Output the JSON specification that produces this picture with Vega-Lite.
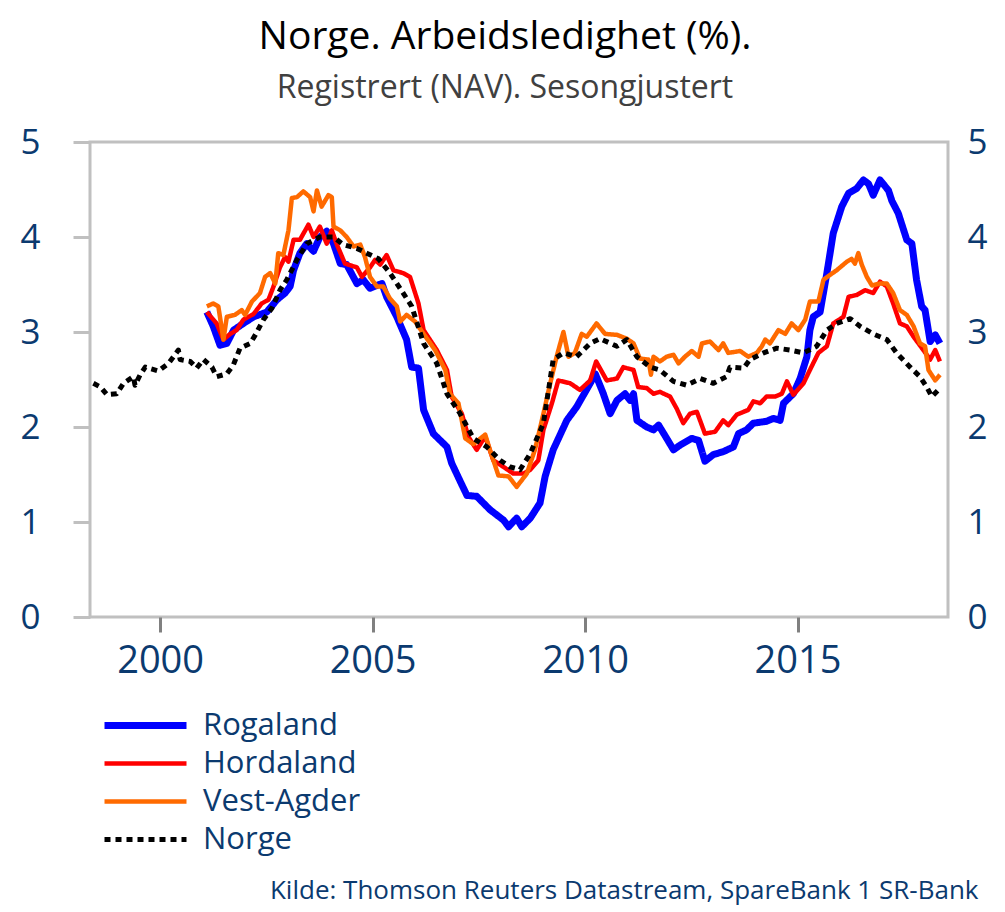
{
  "$schema": "https://vega.github.io/schema/vega-lite/v6.json",
  "width": 858,
  "height": 475,
  "autosize": {"type": "none"},
  "padding": {"left": 90, "top": 142, "right": 57, "bottom": 295},
  "background": "white",
  "config": {
    "view": {"stroke": "#c0c0c0", "strokeWidth": 3},
    "font": "Open Sans"
  },
  "title": {
    "text": "Norge. Arbeidsledighet (%).",
    "subtitle": "Registrert (NAV). Sesongjustert",
    "font": "Open Sans",
    "fontSize": 39,
    "fontWeight": "normal",
    "color": "#000000",
    "subtitleFont": "Open Sans",
    "subtitleFontSize": 32,
    "subtitleColor": "#404040",
    "subtitlePadding": 16,
    "anchor": "middle",
    "dx": -14,
    "offset": 21
  },
  "data": {
    "values": [
      {"s":"Rogaland","t":2001.10,"v":3.21},{"s":"Rogaland","t":2001.25,"v":3.06},{"s":"Rogaland","t":2001.41,"v":2.86},{"s":"Rogaland","t":2001.57,"v":2.88},{"s":"Rogaland","t":2001.73,"v":3.02},{"s":"Rogaland","t":2001.96,"v":3.09},{"s":"Rogaland","t":2002.20,"v":3.16},{"s":"Rogaland","t":2002.39,"v":3.19},{"s":"Rogaland","t":2002.51,"v":3.21},{"s":"Rogaland","t":2002.75,"v":3.34},{"s":"Rogaland","t":2002.94,"v":3.41},{"s":"Rogaland","t":2003.06,"v":3.48},{"s":"Rogaland","t":2003.14,"v":3.65},{"s":"Rogaland","t":2003.29,"v":3.83},{"s":"Rogaland","t":2003.45,"v":3.93},{"s":"Rogaland","t":2003.61,"v":3.85},{"s":"Rogaland","t":2003.76,"v":4.00},{"s":"Rogaland","t":2003.92,"v":4.06},{"s":"Rogaland","t":2004.08,"v":3.93},{"s":"Rogaland","t":2004.24,"v":3.72},{"s":"Rogaland","t":2004.39,"v":3.71},{"s":"Rogaland","t":2004.63,"v":3.51},{"s":"Rogaland","t":2004.78,"v":3.55},{"s":"Rogaland","t":2004.94,"v":3.46},{"s":"Rogaland","t":2005.10,"v":3.49},{"s":"Rogaland","t":2005.22,"v":3.51},{"s":"Rogaland","t":2005.33,"v":3.37},{"s":"Rogaland","t":2005.57,"v":3.16},{"s":"Rogaland","t":2005.80,"v":2.92},{"s":"Rogaland","t":2005.92,"v":2.63},{"s":"Rogaland","t":2006.08,"v":2.62},{"s":"Rogaland","t":2006.20,"v":2.18},{"s":"Rogaland","t":2006.43,"v":1.93},{"s":"Rogaland","t":2006.75,"v":1.79},{"s":"Rogaland","t":2006.86,"v":1.62},{"s":"Rogaland","t":2007.06,"v":1.43},{"s":"Rogaland","t":2007.22,"v":1.28},{"s":"Rogaland","t":2007.45,"v":1.27},{"s":"Rogaland","t":2007.76,"v":1.13},{"s":"Rogaland","t":2008.08,"v":1.02},{"s":"Rogaland","t":2008.20,"v":0.95},{"s":"Rogaland","t":2008.39,"v":1.04},{"s":"Rogaland","t":2008.51,"v":0.95},{"s":"Rogaland","t":2008.71,"v":1.04},{"s":"Rogaland","t":2008.94,"v":1.20},{"s":"Rogaland","t":2009.06,"v":1.48},{"s":"Rogaland","t":2009.25,"v":1.76},{"s":"Rogaland","t":2009.57,"v":2.07},{"s":"Rogaland","t":2009.80,"v":2.21},{"s":"Rogaland","t":2010.12,"v":2.46},{"s":"Rogaland","t":2010.24,"v":2.56},{"s":"Rogaland","t":2010.43,"v":2.35},{"s":"Rogaland","t":2010.59,"v":2.14},{"s":"Rogaland","t":2010.75,"v":2.28},{"s":"Rogaland","t":2010.94,"v":2.35},{"s":"Rogaland","t":2011.06,"v":2.28},{"s":"Rogaland","t":2011.14,"v":2.35},{"s":"Rogaland","t":2011.22,"v":2.07},{"s":"Rogaland","t":2011.45,"v":2.00},{"s":"Rogaland","t":2011.61,"v":1.97},{"s":"Rogaland","t":2011.73,"v":2.02},{"s":"Rogaland","t":2011.92,"v":1.88},{"s":"Rogaland","t":2012.08,"v":1.76},{"s":"Rogaland","t":2012.24,"v":1.81},{"s":"Rogaland","t":2012.51,"v":1.88},{"s":"Rogaland","t":2012.67,"v":1.86},{"s":"Rogaland","t":2012.82,"v":1.64},{"s":"Rogaland","t":2013.02,"v":1.71},{"s":"Rogaland","t":2013.25,"v":1.74},{"s":"Rogaland","t":2013.49,"v":1.79},{"s":"Rogaland","t":2013.61,"v":1.93},{"s":"Rogaland","t":2013.80,"v":1.97},{"s":"Rogaland","t":2013.96,"v":2.04},{"s":"Rogaland","t":2014.27,"v":2.06},{"s":"Rogaland","t":2014.43,"v":2.09},{"s":"Rogaland","t":2014.59,"v":2.07},{"s":"Rogaland","t":2014.67,"v":2.25},{"s":"Rogaland","t":2014.90,"v":2.35},{"s":"Rogaland","t":2015.06,"v":2.51},{"s":"Rogaland","t":2015.22,"v":2.74},{"s":"Rogaland","t":2015.29,"v":3.02},{"s":"Rogaland","t":2015.37,"v":3.16},{"s":"Rogaland","t":2015.53,"v":3.21},{"s":"Rogaland","t":2015.69,"v":3.62},{"s":"Rogaland","t":2015.84,"v":4.04},{"s":"Rogaland","t":2016.04,"v":4.32},{"s":"Rogaland","t":2016.20,"v":4.46},{"s":"Rogaland","t":2016.39,"v":4.51},{"s":"Rogaland","t":2016.55,"v":4.60},{"s":"Rogaland","t":2016.67,"v":4.56},{"s":"Rogaland","t":2016.78,"v":4.44},{"s":"Rogaland","t":2016.94,"v":4.60},{"s":"Rogaland","t":2017.14,"v":4.49},{"s":"Rogaland","t":2017.22,"v":4.38},{"s":"Rogaland","t":2017.37,"v":4.25},{"s":"Rogaland","t":2017.57,"v":3.97},{"s":"Rogaland","t":2017.69,"v":3.93},{"s":"Rogaland","t":2017.80,"v":3.55},{"s":"Rogaland","t":2017.92,"v":3.27},{"s":"Rogaland","t":2018.00,"v":3.23},{"s":"Rogaland","t":2018.12,"v":2.90},{"s":"Rogaland","t":2018.24,"v":2.97},{"s":"Rogaland","t":2018.35,"v":2.88},
      {"s":"Hordaland","t":2001.10,"v":3.21},{"s":"Hordaland","t":2001.33,"v":3.09},{"s":"Hordaland","t":2001.49,"v":2.92},{"s":"Hordaland","t":2001.65,"v":2.98},{"s":"Hordaland","t":2001.80,"v":3.02},{"s":"Hordaland","t":2001.96,"v":3.13},{"s":"Hordaland","t":2002.20,"v":3.19},{"s":"Hordaland","t":2002.39,"v":3.30},{"s":"Hordaland","t":2002.55,"v":3.34},{"s":"Hordaland","t":2002.67,"v":3.48},{"s":"Hordaland","t":2002.82,"v":3.68},{"s":"Hordaland","t":2002.94,"v":3.79},{"s":"Hordaland","t":2003.02,"v":3.74},{"s":"Hordaland","t":2003.14,"v":3.97},{"s":"Hordaland","t":2003.29,"v":3.97},{"s":"Hordaland","t":2003.49,"v":4.13},{"s":"Hordaland","t":2003.61,"v":4.00},{"s":"Hordaland","t":2003.76,"v":4.11},{"s":"Hordaland","t":2003.92,"v":3.93},{"s":"Hordaland","t":2004.04,"v":4.07},{"s":"Hordaland","t":2004.16,"v":3.92},{"s":"Hordaland","t":2004.35,"v":3.72},{"s":"Hordaland","t":2004.63,"v":3.68},{"s":"Hordaland","t":2004.75,"v":3.58},{"s":"Hordaland","t":2004.94,"v":3.68},{"s":"Hordaland","t":2005.06,"v":3.76},{"s":"Hordaland","t":2005.18,"v":3.71},{"s":"Hordaland","t":2005.33,"v":3.81},{"s":"Hordaland","t":2005.49,"v":3.65},{"s":"Hordaland","t":2005.72,"v":3.62},{"s":"Hordaland","t":2005.88,"v":3.58},{"s":"Hordaland","t":2006.08,"v":3.30},{"s":"Hordaland","t":2006.20,"v":3.02},{"s":"Hordaland","t":2006.51,"v":2.81},{"s":"Hordaland","t":2006.75,"v":2.60},{"s":"Hordaland","t":2006.86,"v":2.32},{"s":"Hordaland","t":2007.10,"v":2.14},{"s":"Hordaland","t":2007.25,"v":1.90},{"s":"Hordaland","t":2007.45,"v":1.76},{"s":"Hordaland","t":2007.65,"v":1.90},{"s":"Hordaland","t":2007.84,"v":1.65},{"s":"Hordaland","t":2008.08,"v":1.58},{"s":"Hordaland","t":2008.31,"v":1.51},{"s":"Hordaland","t":2008.55,"v":1.51},{"s":"Hordaland","t":2008.71,"v":1.55},{"s":"Hordaland","t":2008.90,"v":1.65},{"s":"Hordaland","t":2009.02,"v":1.97},{"s":"Hordaland","t":2009.22,"v":2.25},{"s":"Hordaland","t":2009.37,"v":2.49},{"s":"Hordaland","t":2009.65,"v":2.46},{"s":"Hordaland","t":2009.88,"v":2.39},{"s":"Hordaland","t":2010.12,"v":2.49},{"s":"Hordaland","t":2010.26,"v":2.69},{"s":"Hordaland","t":2010.51,"v":2.49},{"s":"Hordaland","t":2010.75,"v":2.51},{"s":"Hordaland","t":2010.90,"v":2.63},{"s":"Hordaland","t":2011.14,"v":2.60},{"s":"Hordaland","t":2011.25,"v":2.42},{"s":"Hordaland","t":2011.45,"v":2.41},{"s":"Hordaland","t":2011.61,"v":2.35},{"s":"Hordaland","t":2011.76,"v":2.37},{"s":"Hordaland","t":2012.00,"v":2.32},{"s":"Hordaland","t":2012.16,"v":2.19},{"s":"Hordaland","t":2012.31,"v":2.04},{"s":"Hordaland","t":2012.47,"v":2.14},{"s":"Hordaland","t":2012.63,"v":2.16},{"s":"Hordaland","t":2012.82,"v":1.93},{"s":"Hordaland","t":2013.06,"v":1.95},{"s":"Hordaland","t":2013.25,"v":2.07},{"s":"Hordaland","t":2013.37,"v":2.02},{"s":"Hordaland","t":2013.57,"v":2.13},{"s":"Hordaland","t":2013.84,"v":2.18},{"s":"Hordaland","t":2013.96,"v":2.27},{"s":"Hordaland","t":2014.12,"v":2.25},{"s":"Hordaland","t":2014.27,"v":2.32},{"s":"Hordaland","t":2014.47,"v":2.32},{"s":"Hordaland","t":2014.63,"v":2.35},{"s":"Hordaland","t":2014.75,"v":2.48},{"s":"Hordaland","t":2014.90,"v":2.34},{"s":"Hordaland","t":2015.14,"v":2.46},{"s":"Hordaland","t":2015.29,"v":2.60},{"s":"Hordaland","t":2015.49,"v":2.78},{"s":"Hordaland","t":2015.69,"v":2.85},{"s":"Hordaland","t":2015.84,"v":3.09},{"s":"Hordaland","t":2016.08,"v":3.16},{"s":"Hordaland","t":2016.20,"v":3.37},{"s":"Hordaland","t":2016.39,"v":3.39},{"s":"Hordaland","t":2016.59,"v":3.44},{"s":"Hordaland","t":2016.78,"v":3.41},{"s":"Hordaland","t":2016.94,"v":3.53},{"s":"Hordaland","t":2017.10,"v":3.48},{"s":"Hordaland","t":2017.25,"v":3.30},{"s":"Hordaland","t":2017.41,"v":3.09},{"s":"Hordaland","t":2017.57,"v":3.06},{"s":"Hordaland","t":2017.73,"v":2.95},{"s":"Hordaland","t":2017.96,"v":2.81},{"s":"Hordaland","t":2018.12,"v":2.71},{"s":"Hordaland","t":2018.24,"v":2.81},{"s":"Hordaland","t":2018.35,"v":2.69},
      {"s":"Vest-Agder","t":2001.10,"v":3.27},{"s":"Vest-Agder","t":2001.25,"v":3.30},{"s":"Vest-Agder","t":2001.37,"v":3.27},{"s":"Vest-Agder","t":2001.49,"v":2.92},{"s":"Vest-Agder","t":2001.57,"v":3.16},{"s":"Vest-Agder","t":2001.76,"v":3.18},{"s":"Vest-Agder","t":2001.92,"v":3.23},{"s":"Vest-Agder","t":2002.00,"v":3.18},{"s":"Vest-Agder","t":2002.16,"v":3.32},{"s":"Vest-Agder","t":2002.35,"v":3.41},{"s":"Vest-Agder","t":2002.47,"v":3.58},{"s":"Vest-Agder","t":2002.59,"v":3.62},{"s":"Vest-Agder","t":2002.71,"v":3.51},{"s":"Vest-Agder","t":2002.78,"v":3.83},{"s":"Vest-Agder","t":2002.90,"v":3.81},{"s":"Vest-Agder","t":2003.02,"v":4.07},{"s":"Vest-Agder","t":2003.10,"v":4.41},{"s":"Vest-Agder","t":2003.22,"v":4.42},{"s":"Vest-Agder","t":2003.37,"v":4.48},{"s":"Vest-Agder","t":2003.53,"v":4.42},{"s":"Vest-Agder","t":2003.61,"v":4.27},{"s":"Vest-Agder","t":2003.69,"v":4.49},{"s":"Vest-Agder","t":2003.80,"v":4.32},{"s":"Vest-Agder","t":2003.96,"v":4.44},{"s":"Vest-Agder","t":2004.04,"v":4.42},{"s":"Vest-Agder","t":2004.08,"v":4.11},{"s":"Vest-Agder","t":2004.24,"v":4.07},{"s":"Vest-Agder","t":2004.39,"v":4.00},{"s":"Vest-Agder","t":2004.55,"v":3.90},{"s":"Vest-Agder","t":2004.71,"v":3.92},{"s":"Vest-Agder","t":2004.82,"v":3.79},{"s":"Vest-Agder","t":2004.94,"v":3.58},{"s":"Vest-Agder","t":2005.10,"v":3.48},{"s":"Vest-Agder","t":2005.25,"v":3.48},{"s":"Vest-Agder","t":2005.41,"v":3.35},{"s":"Vest-Agder","t":2005.57,"v":3.27},{"s":"Vest-Agder","t":2005.65,"v":3.11},{"s":"Vest-Agder","t":2005.80,"v":3.18},{"s":"Vest-Agder","t":2006.00,"v":3.11},{"s":"Vest-Agder","t":2006.20,"v":2.98},{"s":"Vest-Agder","t":2006.47,"v":2.81},{"s":"Vest-Agder","t":2006.71,"v":2.60},{"s":"Vest-Agder","t":2006.82,"v":2.35},{"s":"Vest-Agder","t":2007.02,"v":2.25},{"s":"Vest-Agder","t":2007.18,"v":1.88},{"s":"Vest-Agder","t":2007.37,"v":1.82},{"s":"Vest-Agder","t":2007.65,"v":1.92},{"s":"Vest-Agder","t":2007.76,"v":1.76},{"s":"Vest-Agder","t":2007.96,"v":1.49},{"s":"Vest-Agder","t":2008.20,"v":1.48},{"s":"Vest-Agder","t":2008.39,"v":1.37},{"s":"Vest-Agder","t":2008.63,"v":1.51},{"s":"Vest-Agder","t":2008.82,"v":1.76},{"s":"Vest-Agder","t":2009.02,"v":2.14},{"s":"Vest-Agder","t":2009.18,"v":2.46},{"s":"Vest-Agder","t":2009.33,"v":2.74},{"s":"Vest-Agder","t":2009.49,"v":3.00},{"s":"Vest-Agder","t":2009.61,"v":2.74},{"s":"Vest-Agder","t":2009.76,"v":2.78},{"s":"Vest-Agder","t":2009.92,"v":2.98},{"s":"Vest-Agder","t":2010.04,"v":2.95},{"s":"Vest-Agder","t":2010.27,"v":3.09},{"s":"Vest-Agder","t":2010.47,"v":2.98},{"s":"Vest-Agder","t":2010.75,"v":2.97},{"s":"Vest-Agder","t":2010.98,"v":2.93},{"s":"Vest-Agder","t":2011.14,"v":2.88},{"s":"Vest-Agder","t":2011.29,"v":2.72},{"s":"Vest-Agder","t":2011.49,"v":2.71},{"s":"Vest-Agder","t":2011.55,"v":2.55},{"s":"Vest-Agder","t":2011.61,"v":2.74},{"s":"Vest-Agder","t":2011.76,"v":2.69},{"s":"Vest-Agder","t":2011.92,"v":2.74},{"s":"Vest-Agder","t":2012.08,"v":2.76},{"s":"Vest-Agder","t":2012.20,"v":2.67},{"s":"Vest-Agder","t":2012.35,"v":2.74},{"s":"Vest-Agder","t":2012.51,"v":2.80},{"s":"Vest-Agder","t":2012.67,"v":2.74},{"s":"Vest-Agder","t":2012.75,"v":2.88},{"s":"Vest-Agder","t":2012.94,"v":2.90},{"s":"Vest-Agder","t":2013.14,"v":2.81},{"s":"Vest-Agder","t":2013.25,"v":2.88},{"s":"Vest-Agder","t":2013.37,"v":2.78},{"s":"Vest-Agder","t":2013.65,"v":2.80},{"s":"Vest-Agder","t":2013.84,"v":2.74},{"s":"Vest-Agder","t":2014.04,"v":2.78},{"s":"Vest-Agder","t":2014.16,"v":2.85},{"s":"Vest-Agder","t":2014.24,"v":2.92},{"s":"Vest-Agder","t":2014.35,"v":2.88},{"s":"Vest-Agder","t":2014.55,"v":3.02},{"s":"Vest-Agder","t":2014.71,"v":2.98},{"s":"Vest-Agder","t":2014.86,"v":3.09},{"s":"Vest-Agder","t":2015.02,"v":3.02},{"s":"Vest-Agder","t":2015.18,"v":3.13},{"s":"Vest-Agder","t":2015.29,"v":3.32},{"s":"Vest-Agder","t":2015.49,"v":3.32},{"s":"Vest-Agder","t":2015.61,"v":3.55},{"s":"Vest-Agder","t":2015.76,"v":3.60},{"s":"Vest-Agder","t":2015.92,"v":3.65},{"s":"Vest-Agder","t":2016.16,"v":3.74},{"s":"Vest-Agder","t":2016.27,"v":3.77},{"s":"Vest-Agder","t":2016.35,"v":3.72},{"s":"Vest-Agder","t":2016.43,"v":3.83},{"s":"Vest-Agder","t":2016.51,"v":3.71},{"s":"Vest-Agder","t":2016.63,"v":3.58},{"s":"Vest-Agder","t":2016.75,"v":3.49},{"s":"Vest-Agder","t":2016.94,"v":3.51},{"s":"Vest-Agder","t":2017.10,"v":3.51},{"s":"Vest-Agder","t":2017.25,"v":3.41},{"s":"Vest-Agder","t":2017.41,"v":3.23},{"s":"Vest-Agder","t":2017.57,"v":3.18},{"s":"Vest-Agder","t":2017.73,"v":3.06},{"s":"Vest-Agder","t":2017.88,"v":2.88},{"s":"Vest-Agder","t":2018.00,"v":2.85},{"s":"Vest-Agder","t":2018.08,"v":2.60},{"s":"Vest-Agder","t":2018.24,"v":2.49},{"s":"Vest-Agder","t":2018.35,"v":2.55},
      {"s":"Norge","t":1998.43,"v":2.46},{"s":"Norge","t":1998.60,"v":2.42},{"s":"Norge","t":1998.75,"v":2.34},{"s":"Norge","t":1998.98,"v":2.35},{"s":"Norge","t":1999.14,"v":2.46},{"s":"Norge","t":1999.37,"v":2.53},{"s":"Norge","t":1999.41,"v":2.44},{"s":"Norge","t":1999.53,"v":2.55},{"s":"Norge","t":1999.65,"v":2.63},{"s":"Norge","t":1999.96,"v":2.59},{"s":"Norge","t":2000.20,"v":2.67},{"s":"Norge","t":2000.43,"v":2.81},{"s":"Norge","t":2000.47,"v":2.71},{"s":"Norge","t":2000.71,"v":2.69},{"s":"Norge","t":2000.86,"v":2.62},{"s":"Norge","t":2001.02,"v":2.71},{"s":"Norge","t":2001.22,"v":2.63},{"s":"Norge","t":2001.33,"v":2.53},{"s":"Norge","t":2001.57,"v":2.56},{"s":"Norge","t":2001.72,"v":2.65},{"s":"Norge","t":2001.88,"v":2.83},{"s":"Norge","t":2002.12,"v":2.88},{"s":"Norge","t":2002.24,"v":2.97},{"s":"Norge","t":2002.43,"v":3.13},{"s":"Norge","t":2002.63,"v":3.25},{"s":"Norge","t":2002.82,"v":3.44},{"s":"Norge","t":2002.98,"v":3.55},{"s":"Norge","t":2003.22,"v":3.76},{"s":"Norge","t":2003.45,"v":3.93},{"s":"Norge","t":2003.76,"v":4.00},{"s":"Norge","t":2004.08,"v":4.00},{"s":"Norge","t":2004.31,"v":3.92},{"s":"Norge","t":2004.63,"v":3.88},{"s":"Norge","t":2004.86,"v":3.83},{"s":"Norge","t":2005.14,"v":3.77},{"s":"Norge","t":2005.41,"v":3.62},{"s":"Norge","t":2005.72,"v":3.41},{"s":"Norge","t":2005.92,"v":3.27},{"s":"Norge","t":2006.20,"v":2.88},{"s":"Norge","t":2006.51,"v":2.67},{"s":"Norge","t":2006.75,"v":2.35},{"s":"Norge","t":2007.06,"v":2.14},{"s":"Norge","t":2007.37,"v":1.88},{"s":"Norge","t":2007.69,"v":1.79},{"s":"Norge","t":2008.00,"v":1.65},{"s":"Norge","t":2008.24,"v":1.58},{"s":"Norge","t":2008.47,"v":1.55},{"s":"Norge","t":2008.71,"v":1.72},{"s":"Norge","t":2009.02,"v":2.04},{"s":"Norge","t":2009.25,"v":2.71},{"s":"Norge","t":2009.49,"v":2.78},{"s":"Norge","t":2009.80,"v":2.74},{"s":"Norge","t":2010.12,"v":2.88},{"s":"Norge","t":2010.35,"v":2.93},{"s":"Norge","t":2010.75,"v":2.85},{"s":"Norge","t":2010.98,"v":2.92},{"s":"Norge","t":2011.22,"v":2.74},{"s":"Norge","t":2011.53,"v":2.63},{"s":"Norge","t":2011.76,"v":2.60},{"s":"Norge","t":2012.08,"v":2.48},{"s":"Norge","t":2012.39,"v":2.44},{"s":"Norge","t":2012.71,"v":2.51},{"s":"Norge","t":2013.02,"v":2.46},{"s":"Norge","t":2013.33,"v":2.53},{"s":"Norge","t":2013.41,"v":2.63},{"s":"Norge","t":2013.73,"v":2.62},{"s":"Norge","t":2013.88,"v":2.71},{"s":"Norge","t":2014.20,"v":2.78},{"s":"Norge","t":2014.51,"v":2.83},{"s":"Norge","t":2014.82,"v":2.81},{"s":"Norge","t":2015.14,"v":2.78},{"s":"Norge","t":2015.45,"v":2.85},{"s":"Norge","t":2015.69,"v":3.02},{"s":"Norge","t":2015.92,"v":3.09},{"s":"Norge","t":2016.24,"v":3.14},{"s":"Norge","t":2016.47,"v":3.06},{"s":"Norge","t":2016.78,"v":2.98},{"s":"Norge","t":2017.10,"v":2.92},{"s":"Norge","t":2017.33,"v":2.78},{"s":"Norge","t":2017.65,"v":2.63},{"s":"Norge","t":2017.88,"v":2.53},{"s":"Norge","t":2018.04,"v":2.42},{"s":"Norge","t":2018.16,"v":2.32},{"s":"Norge","t":2018.31,"v":2.39}
    ]
  },
  "layer": [
    {
      "mark": {"type": "line", "strokeJoin": "round", "strokeCap": "butt"},
      "encoding": {
        "x": {
          "field": "t",
          "type": "quantitative",
          "scale": {"domain": [1998.35, 2018.54], "nice": false, "zero": false},
          "axis": {
            "orient": "bottom",
            "values": [2000, 2005, 2010, 2015],
            "format": "d",
            "domain": false,
            "grid": false,
            "ticks": true,
            "tickSize": 15,
            "tickColor": "#808080",
            "tickWidth": 3,
            "labelFont": "Open Sans",
            "labelFontSize": 38,
            "labelColor": "#0b3a6f",
            "labelPadding": 10,
            "labelDx": -6,
            "title": "Kilde: Thomson Reuters Datastream, SpareBank 1 SR-Bank",
            "titleFont": "Open Sans",
            "titleFontSize": 26,
            "titleFontWeight": "normal",
            "titleColor": "#0b3a6f",
            "titleAnchor": "end",
            "titleAlign": "right",
            "titleBaseline": "alphabetic",
            "titleX": 888,
            "titleY": 281
          }
        },
        "y": {
          "field": "v",
          "type": "quantitative",
          "scale": {"domain": [0, 5], "nice": false},
          "axis": {
            "orient": "left",
            "values": [0, 1, 2, 3, 4, 5],
            "domain": false,
            "grid": false,
            "tickSize": 17,
            "tickColor": "#c0c0c0",
            "tickWidth": 3,
            "labelFont": "Open Sans",
            "labelFontSize": 35,
            "labelColor": "#0b3a6f",
            "labelPadding": 33,
            "title": null
          }
        },
        "color": {
          "field": "s",
          "type": "nominal",
          "scale": {"domain": ["Rogaland", "Hordaland", "Vest-Agder", "Norge"], "range": ["#0000ff", "#ff0000", "#ff6a00", "#000000"]},
          "legend": {
            "orient": "none",
            "legendX": 40,
            "legendY": 568,
            "title": null,
            "symbolType": "M-4.1,0H4.1",
            "symbolSize": 400,
            "labelFont": "Open Sans",
            "labelFontSize": 31,
            "labelColor": "#0b3a6f",
            "labelOffset": 42,
            "rowPadding": 6
          }
        },
        "strokeDash": {
          "field": "s",
          "type": "nominal",
          "scale": {"domain": ["Rogaland", "Hordaland", "Vest-Agder", "Norge"], "range": [[1, 0], [1, 0], [1, 0], [6, 5]]}
        },
        "strokeWidth": {
          "field": "s",
          "type": "nominal",
          "scale": {"type": "ordinal", "domain": ["Rogaland", "Hordaland", "Vest-Agder", "Norge"], "range": [7, 4.5, 4.5, 5]}
        }
      }
    },
    {
      "mark": {"type": "rule", "strokeOpacity": 0},
      "encoding": {
        "y": {
          "field": "v",
          "type": "quantitative",
          "scale": {"domain": [0, 5], "nice": false},
          "axis": {
            "orient": "right",
            "values": [0, 1, 2, 3, 4, 5],
            "domain": false,
            "grid": false,
            "ticks": false,
            "labelFont": "Open Sans",
            "labelFontSize": 35,
            "labelColor": "#0b3a6f",
            "labelPadding": 19,
            "title": null
          }
        }
      }
    }
  ],
  "resolve": {"axis": {"y": "independent"}}
}
